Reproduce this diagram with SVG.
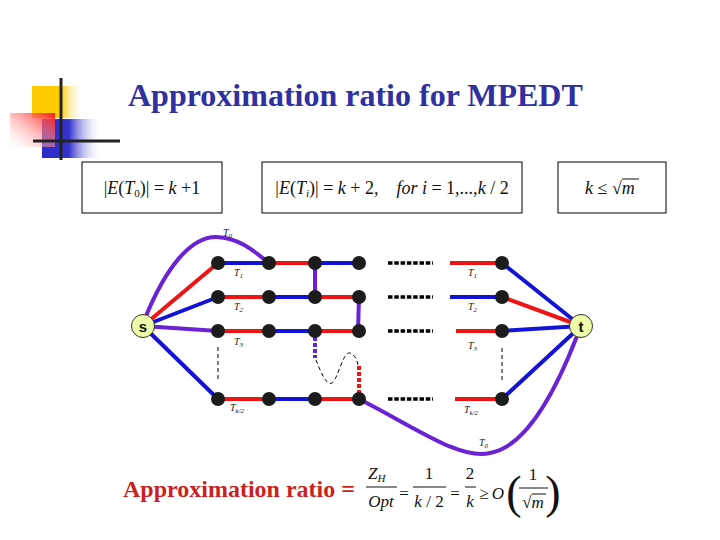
<svg xmlns="http://www.w3.org/2000/svg" width="720" height="540" viewBox="0 0 720 540">
<defs>
<linearGradient id="gY" x1="0" y1="0" x2="1" y2="0"><stop offset="0" stop-color="#ffcc00"/><stop offset="0.55" stop-color="#ffcc00"/><stop offset="1" stop-color="#ffffff" stop-opacity="0"/></linearGradient>
<linearGradient id="gB" x1="0" y1="0" x2="1" y2="0"><stop offset="0" stop-color="#2a2ac8"/><stop offset="0.45" stop-color="#3434cc"/><stop offset="1" stop-color="#ffffff" stop-opacity="0"/></linearGradient>
<linearGradient id="gR" x1="1" y1="0" x2="0" y2="1"><stop offset="0" stop-color="#ff1a1a"/><stop offset="1" stop-color="#ffffff" stop-opacity="0.2"/></linearGradient>
<linearGradient id="gL" x1="0" y1="0" x2="1" y2="0"><stop offset="0" stop-color="#dcdce4"/><stop offset="1" stop-color="#ffffff" stop-opacity="0"/></linearGradient>
<style>
.e{fill:none;stroke-width:4;stroke-linecap:butt}
.b{stroke:#1212d8}.r{stroke:#ee1414}.p{stroke:#6a22d4}
.n{fill:#1c1c1c}
.dot{stroke:#000;stroke-width:3.5;stroke-dasharray:4.5,1.8}
.thin{stroke:#000;stroke-width:1;stroke-dasharray:4,3;fill:none}
.lbl{font-family:"Liberation Serif",serif;font-style:italic;font-size:10px;fill:#222}
.m{font-family:"Liberation Serif",serif;font-size:17px;fill:#111}
.bx{font-family:"Liberation Serif",serif;font-size:18px;fill:#111}
.i{font-style:italic}
.box{fill:#fff;stroke:#000;stroke-width:1}
.fl{stroke:#111;stroke-width:1}
.term{fill:#eeffaa;stroke:#333;stroke-width:1}
.tt{font-family:"Liberation Sans",Arial,sans-serif;font-weight:bold;font-size:15px;fill:#111}
</style>
</defs>
<rect width="720" height="540" fill="#fff"/>
<g id="decoration">
<rect x="32" y="86" width="52" height="32" fill="url(#gY)"/>
<rect x="42" y="119" width="60" height="39" fill="url(#gB)"/>
<rect x="10" y="113" width="45" height="34" fill="url(#gR)"/>
<line x1="120" y1="141" x2="680" y2="141" stroke="url(#gL)" stroke-width="1"/>
<line x1="61" y1="78" x2="61" y2="160" stroke="#222" stroke-width="3"/>
<line x1="33" y1="141" x2="120" y2="141" stroke="#222" stroke-width="3"/>
</g>
<text id="title" x="128" y="106" font-family="Liberation Serif,serif" font-weight="bold" font-size="32" fill="#3030a0">Approximation ratio for MPEDT</text>
<g id="box1"><rect class="box" x="82" y="162" width="140" height="51"/>
<text class="bx" x="152" y="194" text-anchor="middle">|<tspan class="i">E</tspan>(<tspan class="i">T</tspan><tspan font-size="11" dy="3">0</tspan><tspan dy="-3">)| = </tspan><tspan class="i">k</tspan> +1</text></g>
<g id="box2"><rect class="box" x="262" y="162" width="260" height="51"/>
<text class="bx" x="392" y="194" text-anchor="middle">|<tspan class="i">E</tspan>(<tspan class="i">T</tspan><tspan class="i" font-size="11" dy="3">i</tspan><tspan dy="-3">)| = </tspan><tspan class="i">k</tspan> + 2,<tspan class="i" dx="18">for i</tspan> = 1,...,<tspan class="i">k</tspan> / 2</text></g>
<g id="box3"><rect class="box" x="558" y="162" width="108" height="51"/>
<text class="bx" x="585" y="194"><tspan class="i">k</tspan> ≤ √<tspan class="i">m</tspan></text>
<line class="fl" x1="622" y1="179" x2="639" y2="179"/></g>
<g id="connectors">
<path class="e p" d="M146,316 C165,270 190,236 217,237 C240,238 255,252 269,263"/>
<path class="e p" d="M359,399 C420,430 460,460 490,453 C530,446 560,380 577,336"/>
<line class="e r" x1="143" y1="326" x2="218" y2="263"/>
<line class="e b" x1="143" y1="326" x2="218" y2="297"/>
<line class="e p" x1="143" y1="326" x2="218" y2="331"/>
<line class="e b" x1="143" y1="326" x2="218" y2="399"/>
<line class="e b" x1="218" y1="263" x2="269" y2="263"/>
<line class="e r" x1="269" y1="263" x2="315" y2="263"/>
<line class="e b" x1="315" y1="263" x2="359" y2="263"/>
<line class="e r" x1="218" y1="297" x2="269" y2="297"/>
<line class="e b" x1="269" y1="297" x2="315" y2="297"/>
<line class="e r" x1="315" y1="297" x2="359" y2="297"/>
<line class="e r" x1="218" y1="331" x2="269" y2="331"/>
<line class="e b" x1="269" y1="331" x2="315" y2="331"/>
<line class="e r" x1="315" y1="331" x2="359" y2="331"/>
<line class="e r" x1="218" y1="399" x2="269" y2="399"/>
<line class="e b" x1="269" y1="399" x2="315" y2="399"/>
<line class="e r" x1="315" y1="399" x2="359" y2="399"/>
<line class="e p" x1="315" y1="263" x2="315" y2="297"/>
<line class="e p" x1="359" y1="297" x2="358" y2="331"/>
<line class="e p" x1="315" y1="331" x2="315" y2="358" stroke-dasharray="4,2"/>
<line class="e r" x1="359" y1="366" x2="359" y2="399" stroke-dasharray="4,2"/>
<path class="thin" d="M316,360 C321,372 326,386 332,383 C338,379 343,351 350,353 C355,355 357,360 358,365"/>
<line class="thin" x1="218" y1="347" x2="218" y2="380"/>
<line class="thin" x1="502" y1="348" x2="502" y2="380"/>
<line class="dot" x1="388" y1="263" x2="433" y2="263"/>
<line class="dot" x1="388" y1="297" x2="433" y2="297"/>
<line class="dot" x1="388" y1="331" x2="433" y2="331"/>
<line class="dot" x1="388" y1="399" x2="433" y2="399"/>
<line class="e r" x1="450" y1="263" x2="502" y2="263"/>
<line class="e b" x1="450" y1="297" x2="502" y2="297"/>
<line class="e r" x1="456" y1="331" x2="502" y2="331"/>
<line class="e r" x1="455" y1="399" x2="502" y2="399"/>
<line class="e b" x1="502" y1="263" x2="581" y2="326"/>
<line class="e r" x1="502" y1="297" x2="581" y2="326"/>
<line class="e b" x1="502" y1="331" x2="581" y2="326"/>
<line class="e b" x1="502" y1="399" x2="581" y2="326"/>
</g>
<g id="nodes">
<circle class="n" cx="218" cy="263" r="7"/><circle class="n" cx="269" cy="263" r="7"/><circle class="n" cx="315" cy="263" r="7"/><circle class="n" cx="359" cy="263" r="7"/>
<circle class="n" cx="218" cy="297" r="7"/><circle class="n" cx="269" cy="297" r="7"/><circle class="n" cx="315" cy="297" r="7"/><circle class="n" cx="359" cy="297" r="7"/>
<circle class="n" cx="218" cy="331" r="7"/><circle class="n" cx="269" cy="331" r="7"/><circle class="n" cx="315" cy="331" r="7"/><circle class="n" cx="359" cy="331" r="7"/>
<circle class="n" cx="218" cy="399" r="7"/><circle class="n" cx="269" cy="399" r="7"/><circle class="n" cx="315" cy="399" r="7"/><circle class="n" cx="359" cy="399" r="7"/>
<circle class="n" cx="502" cy="263" r="7"/><circle class="n" cx="502" cy="297" r="7"/><circle class="n" cx="502" cy="331" r="7"/><circle class="n" cx="502" cy="399" r="7"/>
</g>
<g id="s"><circle class="term" cx="143" cy="326" r="11.5"/><text class="tt" x="143" y="331.5" text-anchor="middle">s</text></g>
<g id="t"><circle class="term" cx="581" cy="326" r="11.5"/><text class="tt" x="581" y="331.5" text-anchor="middle">t</text></g>
<g id="labels">
<text class="lbl" x="223" y="236">T<tspan font-size="7" dy="2">0</tspan></text>
<text class="lbl" x="234" y="276">T<tspan font-size="7" dy="2">1</tspan></text>
<text class="lbl" x="234" y="310">T<tspan font-size="7" dy="2">2</tspan></text>
<text class="lbl" x="234" y="345">T<tspan font-size="7" dy="2">3</tspan></text>
<text class="lbl" x="230" y="411">T<tspan font-size="7" dy="2">k/2</tspan></text>
<text class="lbl" x="468" y="276">T<tspan font-size="7" dy="2">1</tspan></text>
<text class="lbl" x="468" y="310">T<tspan font-size="7" dy="2">2</tspan></text>
<text class="lbl" x="468" y="349">T<tspan font-size="7" dy="2">3</tspan></text>
<text class="lbl" x="464" y="413">T<tspan font-size="7" dy="2">k/2</tspan></text>
<text class="lbl" x="479" y="446">T<tspan font-size="7" dy="2">0</tspan></text>
</g>
<g id="ratio">
<text x="123" y="497" font-family="Liberation Serif,serif" font-weight="bold" font-size="24" fill="#cc1f1f">Approximation ratio =</text>
<text class="m" x="368" y="479"><tspan class="i">Z</tspan><tspan class="i" font-size="11" dy="3">H</tspan></text>
<line class="fl" x1="366" y1="487" x2="397" y2="487"/>
<text class="m i" x="381" y="507" text-anchor="middle">Opt</text>
<text class="m" x="404" y="499" text-anchor="middle">=</text>
<text class="m" x="429" y="479" text-anchor="middle">1</text>
<line class="fl" x1="413" y1="487" x2="446" y2="487"/>
<text class="m" x="429" y="507" text-anchor="middle"><tspan class="i">k</tspan> / 2</text>
<text class="m" x="455" y="499" text-anchor="middle">=</text>
<text class="m" x="470" y="479" text-anchor="middle">2</text>
<line class="fl" x1="465" y1="487" x2="476" y2="487"/>
<text class="m i" x="470" y="507" text-anchor="middle">k</text>
<text class="m" x="484" y="499" text-anchor="middle">≥</text>
<text class="m i" x="498" y="499" text-anchor="middle">O</text>
<text x="514" y="508" font-family="Liberation Serif,serif" font-size="46" fill="#111" text-anchor="middle">(</text>
<text class="m" x="533" y="480" text-anchor="middle">1</text>
<line class="fl" x1="519" y1="488" x2="548" y2="488"/>
<text class="m" x="533" y="508" text-anchor="middle">√<tspan class="i">m</tspan></text>
<line class="fl" x1="532" y1="494" x2="546" y2="494"/>
<text x="553" y="508" font-family="Liberation Serif,serif" font-size="46" fill="#111" text-anchor="middle">)</text>
</g>
</svg>
